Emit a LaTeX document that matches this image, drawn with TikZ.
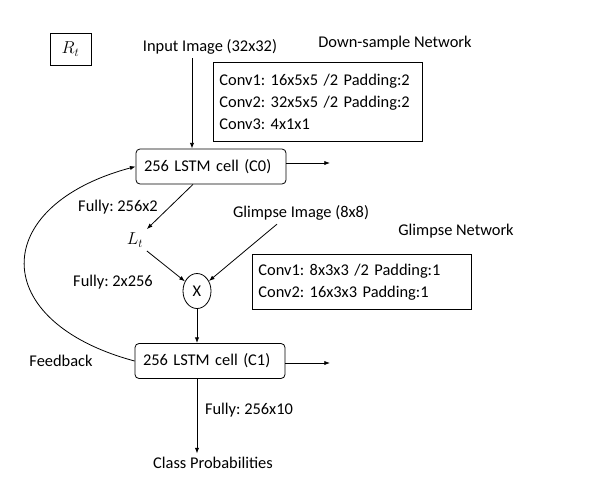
\documentclass[tikz,border=0pt]{standalone}
\usepackage{fontspec}
\setmainfont{Carlito}
\usepackage{tikz}
\usetikzlibrary{arrows.meta}
\usetikzlibrary{shapes.geometric}
\tikzset{>={Latex[length=2mm,width=1.5mm]}}
\frenchspacing

\begin{document}
\begin{tikzpicture}[x=1pt,y=-1pt,line width=0.8pt,font=\fontsize{16.4}{22}\selectfont,
    cell/.style = {draw, rounded corners=4pt, minimum height=35pt, text width=134pt, inner xsep=8pt, align=left},
    conv/.style = {draw, anchor=north west, align=left, inner xsep=6pt},
    mul/.style = {draw, ellipse, minimum width=28pt, minimum height=35pt, inner sep=0pt}]
\useasboundingbox (0,0) rectangle (615,501);
    \node[draw,minimum width=41pt,minimum height=32pt] (R) at (70.5,49) {$R_t$};
    \node (in) at (210,47) {Input Image (32x32)};
    \node (dn) at (395,43) {Down-sample Network};
    \node[conv,text width=197pt,minimum height=79pt] (dconv) at (213,62) {Conv1: 16x5x5 /2 Padding:2\\Conv2: 32x5x5 /2 Padding:2\\Conv3: 4x1x1};
    \node[cell] (C0) at (211,166.5) {256 LSTM cell (C0)};
    \node (f1) at (118,207) {Fully: 256x2};
    \node (L) at (135,240) {$L_t$};
    \node (gi) at (301,213) {Glimpse Image (8x8)};
    \node (gn) at (456,231) {Glimpse Network};
    \node[conv,text width=207pt,minimum height=55pt] (gconv) at (252,254) {Conv1: 8x3x3 /2 Padding:1\\Conv2: 16x3x3 Padding:1};
    \node (f2) at (113,282) {Fully: 2x256};
    \node[mul] (X) at (197,291) {X};
    \node[cell] (C1) at (210,361) {256 LSTM cell (C1)};
    \node (fb) at (61,361) {Feedback};
    \node (f3) at (249,410) {Fully: 256x10};
    \node (cls) at (213,463) {Class Probabilities};
    \coordinate (o0) at (330,163);
    \coordinate (o1) at (330,363);
    \draw[->] ([xshift=-18pt]in.south) -- ([xshift=-19pt]C0.north);
    \draw[->] (C0.east |- o0) -- (o0);
    \draw[->] ([xshift=-18pt]C0.south) -- (L.north east);
    \draw[->] (L.south east) -- (X);
    \draw[->] ([xshift=-24pt]gi.south) -- (X);
    \draw[->] (X) -- (X |- C1.north);
    \draw[->] (C1.east |- o1) -- (o1);
    \draw[->] (X |- C1.south) -- (X |- cls.north);
    \draw[->] (C1.west) to[out=165,in=195,looseness=2] (C0.west);
\end{tikzpicture}
\end{document}
